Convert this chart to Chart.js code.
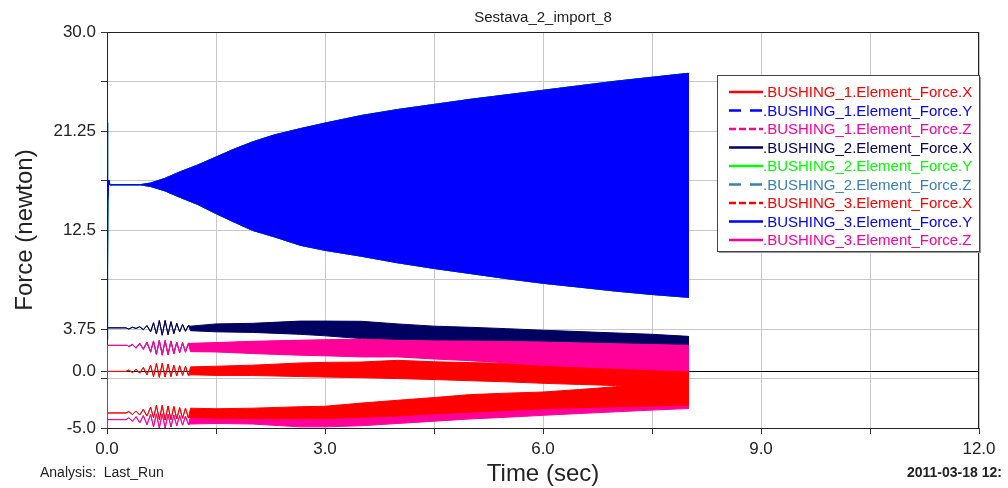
<!DOCTYPE html>
<html>
<head>
<meta charset="utf-8">
<title>Sestava_2_import_8</title>
<script src="https://cdn.jsdelivr.net/npm/chart.js@4.4.1/dist/chart.umd.min.js"></script>
<style>
  html, body { margin: 0; padding: 0; background: #fff; }
  #chart { display: block; }
</style>
</head>
<body>
<canvas id="chart" width="1008" height="488"></canvas>
<script>
(() => {

  const FONT = "'Liberation Sans', Arial, sans-serif";

  // axis ticks, labels only where the original prints one
  const xTicks = [0, 1.5, 3, 4.5, 6, 7.5, 9, 10.5, 12];
  const xLabelled = [0, 3, 6, 9, 12];
  const yTicks = [-5, -0.625, 0, 3.75, 8.125, 12.5, 16.875, 21.25, 25.625, 30];
  const yTickLabels = {'-5': '-5.0', '0': '0.0', '3.75': '3.75', '12.5': '12.5', '21.25': '21.25', '30': '30.0'};

  /* The X / Z forces ring up after ~0.3 s, so each one is
   * start (flat part) -> burst (single swings still visible)
   * -> envelope of the dense oscillation (hi / lo) up to 8 s
   */
  const burstT = [0.30, 0.35, 0.40, 0.45, 0.50, 0.55, 0.60, 0.64, 0.68, 0.72,
                  0.76, 0.80, 0.84, 0.88, 0.92, 0.96, 1.00, 1.04, 1.08, 1.12];
  const envT = [1.15, 1.5, 2.0, 2.66, 3.0, 3.5, 4.0, 4.5, 5.0, 5.5, 6.0, 6.5, 7.0, 7.5, 8.0];

  // BUSHING_1.X
  const b1xStart = [[0, -5], [0.004, 0], [0.26, 0]];
  const b1xBurst = [0.12, -0.1, 0.2, -0.15, 0.35, -0.3, 0.55, -0.45, 0.7, -0.52,
                    0.72, -0.5, 0.65, -0.45, 0.55, -0.4, 0.5, -0.35, 0.45, -0.35];
  const b1xHi = [0.4, 0.46, 0.55, 0.75, 0.8, 0.83, 0.98, 0.85, 0.78, 0.7, 0.6, 0.5, 0.4, 0.3, 0.2];
  const b1xLo = [-0.3, -0.35, -0.36, -0.45, -0.5, -0.55, -0.63, -0.72, -0.82, -0.92, -1.05, -1.15, -1.25, -1.35, -1.45];

  // BUSHING_1.Z
  const b1zStart = [[0, -4.26], [0.26, -4.26]];
  const b1zBurst = [-4.1, -4.4, -4.0, -4.55, -3.9, -4.7, -3.8, -4.9, -3.75, -5.0,
                    -3.75, -5.0, -3.8, -4.9, -3.85, -4.8, -3.9, -4.75, -3.95, -4.7];
  const b1zHi = [-3.95, -4.0, -3.9, -3.7, -3.6, -3.4, -3.2, -3.0, -2.8, -2.6, -2.4, -2.2, -2.0, -1.8, -1.6];
  const b1zLo = [-4.65, -4.6, -4.65, -4.9, -4.9, -4.8, -4.6, -4.4, -4.2, -4.05, -3.88, -3.72, -3.57, -3.42, -3.28];

  // BUSHING_2.X
  const b2xStart = [[0, 3.85], [0.26, 3.85]];
  const b2xBurst = [3.75, 3.9, 3.8, 3.95, 3.7, 4.05, 3.5, 4.3, 3.3, 4.5,
                    3.2, 4.5, 3.25, 4.4, 3.35, 4.25, 3.5, 4.15, 3.55, 4.05];
  const b2xHi = [4.0, 4.2, 4.25, 4.45, 4.45, 4.43, 4.2, 4.0, 3.9, 3.78, 3.64, 3.52, 3.4, 3.28, 3.1];
  const b2xLo = [3.6, 3.5, 3.45, 3.28, 3.15, 2.9, 2.7, 2.6, 2.5, 2.45, 2.4, 2.35, 2.3, 2.25, 2.2];

  // BUSHING_2.Z (sits behind 3.Z)
  const b2zStart = [[0, 2.3], [0.28, 2.3]];
  const b2zBurst = [2.2, 2.35, 2.1, 2.45, 2.0, 2.55, 1.75, 2.65, 1.55, 2.7,
                    1.5, 2.7, 1.5, 2.65, 1.6, 2.55, 1.7, 2.5, 1.75, 2.45];
  const b2zHi = [2.45, 2.5, 2.62, 2.72, 2.76, 2.8, 2.7, 2.65, 2.63, 2.6, 2.56, 2.48, 2.4, 2.33, 2.27];
  const b2zLo = [1.8, 1.78, 1.65, 1.5, 1.45, 1.35, 1.35, 1.2, 1.05, 0.85, 0.65, 0.5, 0.38, 0.25, 0.14];

  // BUSHING_3.X
  const b3xStart = [[0, -3.67], [0.26, -3.67]];
  const b3xBurst = [-3.55, -3.8, -3.5, -3.85, -3.35, -3.95, -3.15, -4.1, -3.0, -4.25,
                    -3.0, -4.3, -3.05, -4.25, -3.1, -4.2, -3.2, -4.15, -3.25, -4.1];
  const b3xHi = [-3.25, -3.3, -3.25, -3.12, -3.08, -2.8, -2.55, -2.31, -2.05, -1.92, -1.82, -1.6, -1.35, -0.95, -0.6];
  const b3xLo = [-4.05, -4.15, -4.17, -4.17, -4.15, -4.05, -3.93, -3.75, -3.6, -3.45, -3.29, -3.2, -3.12, -3.05, -2.99];

  // BUSHING_3.Z
  const b3zStart = [[0, -5], [0.004, 2.3], [0.28, 2.3]];
  const b3zBurst = [2.2, 2.4, 2.05, 2.5, 1.95, 2.6, 1.7, 2.7, 1.5, 2.75,
                    1.43, 2.75, 1.45, 2.7, 1.55, 2.6, 1.65, 2.55, 1.7, 2.5];
  const b3zHi = [2.48, 2.55, 2.66, 2.76, 2.8, 2.85, 2.75, 2.7, 2.68, 2.64, 2.6, 2.52, 2.45, 2.38, 2.31];
  const b3zLo = [1.75, 1.72, 1.58, 1.43, 1.38, 1.28, 1.28, 1.1, 0.95, 0.75, 0.54, 0.4, 0.28, 0.15, 0.04];

  // Y forces: all three bushings carry the same ~16.5 N, oscillation grows from ~0.5 s
  const yStart = [[0, 2.8], [0.004, 22.0], [0.012, 15.1], [0.025, 16.9], [0.04, 16.5], [0.45, 16.5]];
  const yEnvT = [0.5, 0.6, 0.8, 1.0, 1.25, 1.5, 1.75, 2.0, 2.3, 2.66, 3.0,
                 3.5, 4.0, 4.5, 5.0, 5.5, 6.0, 6.5, 7.0, 7.5, 8.0];
  const yHi = [16.55, 16.65, 17.07, 17.63, 18.25, 18.95, 19.65, 20.28, 20.9, 21.46, 21.95,
               22.62, 23.15, 23.6, 24.05, 24.45, 24.85, 25.25, 25.65, 26.0, 26.35];
  const yLo = [16.45, 16.35, 15.95, 15.4, 14.75, 13.95, 13.2, 12.47, 11.9, 11.15, 10.7,
               10.18, 9.6, 9.1, 8.65, 8.2, 7.79, 7.45, 7.1, 6.8, 6.55];

  /* Build one closed outline: start + burst, top envelope,
   * bottom envelope back, then back over the burst
   * (the way back cancels out, so only the band gets filled)
   */
  function outline(start, bT, bV, eT, hi, lo) {
    const head = start.map((p) => ({x: p[0], y: p[1]}))
      .concat(bT.map((t, i) => ({x: t, y: bV[i]})));
    const top = eT.map((t, i) => ({x: t, y: hi[i]}));
    const bottom = eT.map((t, i) => ({x: t, y: lo[i]})).reverse();
    return head.concat(top, bottom, head.slice().reverse());
  }

  const series = [
    {label: '.BUSHING_1.Element_Force.X', color: '#ff0000', dash: [], data: outline(b1xStart, burstT, b1xBurst, envT, b1xHi, b1xLo)},
    {label: '.BUSHING_1.Element_Force.Y', color: '#0000ff', dash: [12, 9], data: outline(yStart, [], [], yEnvT, yHi, yLo)},
    {label: '.BUSHING_1.Element_Force.Z', color: '#ff0099', dash: [7, 3], data: outline(b1zStart, burstT, b1zBurst, envT, b1zHi, b1zLo)},
    {label: '.BUSHING_2.Element_Force.X', color: '#000060', dash: [], data: outline(b2xStart, burstT, b2xBurst, envT, b2xHi, b2xLo)},
    {label: '.BUSHING_2.Element_Force.Y', color: '#00ff00', dash: [], data: outline(yStart, [], [], yEnvT, yHi, yLo)},
    {label: '.BUSHING_2.Element_Force.Z', color: '#3a7fb5', dash: [12, 9], data: outline(b2zStart, burstT, b2zBurst, envT, b2zHi, b2zLo)},
    {label: '.BUSHING_3.Element_Force.X', color: '#ff0000', dash: [7, 3], data: outline(b3xStart, burstT, b3xBurst, envT, b3xHi, b3xLo)},
    {label: '.BUSHING_3.Element_Force.Y', color: '#0000ff', dash: [], data: outline(yStart, [], [], yEnvT, yHi, yLo)},
    {label: '.BUSHING_3.Element_Force.Z', color: '#ff0099', dash: [], data: outline(b3zStart, burstT, b3zBurst, envT, b3zHi, b3zLo)}
  ];

  // later curves are painted over earlier ones, as in the plot
  const datasets = series.map((s, i) => ({
    label: s.label,
    data: s.data,
    borderColor: s.color,
    backgroundColor: s.color,
    borderWidth: 1,
    pointRadius: 0,
    tension: 0,
    fill: 'shape',
    order: -i
  }));

  const frameAndText = {
    id: 'frameAndText',
    beforeDatasetsDraw(chart) {
      const {ctx, chartArea: a} = chart;
      ctx.save();
      ctx.strokeStyle = '#222';
      ctx.lineWidth = 1;
      ctx.strokeRect(a.left + 0.5, a.top + 0.5, a.right - a.left - 1, a.bottom - a.top);
      ctx.restore();
    },
    afterDraw(chart) {
      const {ctx, chartArea: a} = chart;
      const cx = (a.left + a.right) / 2;
      ctx.save();
      ctx.fillStyle = '#222';
      ctx.textBaseline = 'middle';

      ctx.textAlign = 'center';
      ctx.font = '15px ' + FONT;
      ctx.fillText('Sestava_2_import_8', cx, 18);

      ctx.font = '24px ' + FONT;
      ctx.fillText('Time (sec)', cx, 474);

      ctx.save();
      ctx.translate(25, (a.top + a.bottom) / 2);
      ctx.rotate(-Math.PI / 2);
      ctx.fillText('Force (newton)', 0, 0);
      ctx.restore();

      ctx.textAlign = 'left';
      ctx.font = '14px ' + FONT;
      ctx.fillText('Analysis:  Last_Run', 40, 473);
      ctx.font = 'bold 14px ' + FONT;
      ctx.fillText('2011-03-18 12:', 907, 473);

      // legend box
      const lx = 717, ly = 75, lw = 262, lh = 176;
      ctx.fillStyle = '#999';
      ctx.fillRect(lx + 2, ly + 2, lw, lh);
      ctx.fillStyle = '#fff';
      ctx.fillRect(lx, ly, lw, lh);
      ctx.strokeStyle = '#444';
      ctx.lineWidth = 1;
      ctx.strokeRect(lx + 0.5, ly + 0.5, lw, lh);

      ctx.font = '15px ' + FONT;
      series.forEach((s, i) => {
        const y = 92 + i * 18.5;
        ctx.strokeStyle = s.color;
        ctx.lineWidth = 2.5;
        ctx.setLineDash(s.dash);
        ctx.beginPath();
        ctx.moveTo(729, y);
        ctx.lineTo(763, y);
        ctx.stroke();
        ctx.setLineDash([]);
        ctx.fillStyle = s.color;
        ctx.fillText(s.label, 763, y + 1);
      });
      ctx.restore();
    }
  };

  new Chart(document.getElementById('chart'), {
    type: 'line',
    data: {datasets},
    options: {
      responsive: false,
      animation: false,
      events: [],
      layout: {padding: {top: 32, right: 29, left: 0, bottom: 0}},
      plugins: {legend: {display: false}, tooltip: {enabled: false}, title: {display: false}},
      scales: {
        x: {
          type: 'linear',
          min: 0,
          max: 12,
          afterFit: (s) => { s.height = 60; },
          afterBuildTicks: (s) => { s.ticks = xTicks.map((v) => ({value: v})); },
          border: {display: false},
          grid: {color: '#c8c8c8', lineWidth: 1, tickLength: 6, tickColor: '#333'},
          ticks: {
            callback: (v) => xLabelled.includes(v) ? v.toFixed(1) : '',
            autoSkip: false,
            maxRotation: 0,
            padding: 5,
            color: '#222',
            font: {family: FONT, size: 17}
          }
        },
        y: {
          type: 'linear',
          min: -5,
          max: 30,
          afterFit: (s) => { s.width = 107; },
          afterBuildTicks: (s) => { s.ticks = yTicks.map((v) => ({value: v})); },
          border: {display: false},
          grid: {
            color: (c) => (c.tick && c.tick.value === 0) ? '#000' : '#c8c8c8',
            lineWidth: 1,
            tickLength: 6,
            tickColor: '#333'
          },
          ticks: {
            callback: (v) => yTickLabels[String(v)] || '',
            autoSkip: false,
            padding: 5,
            color: '#222',
            font: {family: FONT, size: 17}
          }
        }
      }
    },
    plugins: [frameAndText]
  });

})();
</script>
</body>
</html>
